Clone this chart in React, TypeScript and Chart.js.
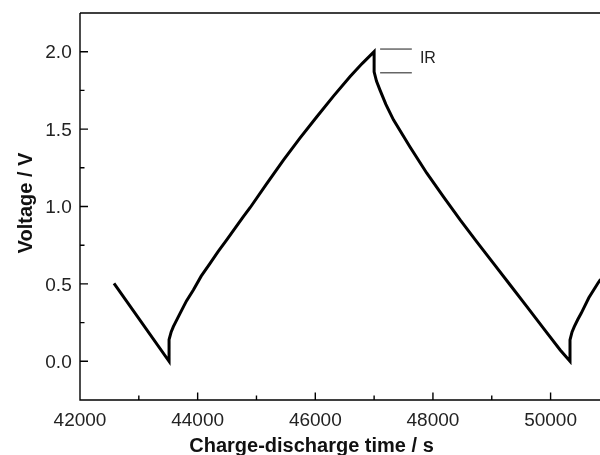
import React, { useEffect, useRef } from "react";
import { Chart, registerables } from "chart.js";

Chart.register(...registerables);

// Charge-discharge curve (time in s, voltage in V)
const timeS = [
  42578, 43514, 43514, 43550, 43587, 43701, 43810, 43927, 44060, 44211, 44350, 44494,
  44640, 44777, 44891, 45175, 45458, 45742, 46026, 46309, 46592, 46800, 47000,
  47000, 47040, 47102, 47200, 47329, 47608, 47896, 48180, 48463, 48746, 49029,
  49313, 49597, 49880, 50163, 50330, 50330, 50365, 50403, 50460, 50520, 50650, 50804, 50850,
];
const voltageV = [
  0.504, 0.0, 0.14, 0.19, 0.224, 0.31, 0.39, 0.46, 0.55, 0.633, 0.71, 0.784,
  0.862, 0.934, 0.992, 1.148, 1.3, 1.443, 1.58, 1.713, 1.84, 1.925, 2.0,
  1.87, 1.81, 1.75, 1.66, 1.56, 1.386, 1.215, 1.062, 0.913, 0.772, 0.633,
  0.493, 0.353, 0.213, 0.073, 0.0, 0.138, 0.19, 0.224, 0.268, 0.31, 0.41, 0.504, 0.53,
];

// IR marker lines
const irTimes = [47102, 47641];
const irUpperV = [2.017, 2.017];
const irLowerV = [1.864, 1.864];
const irLabel = "IR";
const irLabelTime = 47778;
const irLabelVoltage = 1.929;

// Axes
const xMin = 42000;
const xMax = 50840;
const xTicks = [42000, 43000, 44000, 45000, 46000, 47000, 48000, 49000, 50000];
const xTickLabels = ["42000", "", "44000", "", "46000", "", "48000", "", "50000"];
const yMin = -0.25;
const yMax = 2.25;
const yTicks = [0, 0.25, 0.5, 0.75, 1.0, 1.25, 1.5, 1.75, 2.0];
const yTickLabels = ["0.0", "", "0.5", "", "1.0", "", "1.5", "", "2.0"];
const xTitle = "Charge-discharge time / s";
const yTitle = "Voltage / V";

const FONT = '"Liberation Sans", Arial, Helvetica, sans-serif';

const toPoints = (xs: number[], ys: number[]) => xs.map((x, i) => ({ x, y: ys[i] }));

const framePlugin = {
  id: "frame",
  afterDatasetsDraw(chart: any) {
    const { ctx, chartArea: a, scales } = chart;
    const xs = scales.x;
    const ys = scales.y;
    ctx.save();

    // frame + inward ticks
    ctx.strokeStyle = "#000";
    ctx.lineWidth = 1.4;
    ctx.beginPath();
    ctx.moveTo(a.left, a.top);
    ctx.lineTo(a.right, a.top);
    ctx.moveTo(a.left, a.top);
    ctx.lineTo(a.left, a.bottom);
    ctx.lineTo(a.right, a.bottom);
    ys.ticks.forEach((t: any, i: number) => {
      const py = ys.getPixelForValue(t.value);
      const major = yTickLabels[i] !== "";
      ctx.moveTo(a.left, py);
      ctx.lineTo(a.left + (major ? 8 : 4.5), py);
    });
    xs.ticks.forEach((t: any, i: number) => {
      if (t.value <= xMin) return;
      const px = xs.getPixelForValue(t.value);
      const major = xTickLabels[i] !== "";
      ctx.moveTo(px, a.bottom);
      ctx.lineTo(px, a.bottom - (major ? 7.5 : 4.5));
    });
    ctx.stroke();

    // tick labels
    ctx.fillStyle = "#222";
    ctx.font = `19px ${FONT}`;
    ctx.textBaseline = "alphabetic";
    ctx.textAlign = "right";
    ys.ticks.forEach((t: any, i: number) => {
      if (!yTickLabels[i]) return;
      ctx.fillText(yTickLabels[i], a.left - 8.3, ys.getPixelForValue(t.value) + 6.6);
    });
    ctx.textAlign = "center";
    xs.ticks.forEach((t: any, i: number) => {
      if (!xTickLabels[i]) return;
      ctx.fillText(xTickLabels[i], xs.getPixelForValue(t.value), a.bottom + 25.7);
    });

    // IR label
    ctx.fillStyle = "#222";
    ctx.font = `16px ${FONT}`;
    ctx.textAlign = "left";
    ctx.fillText(irLabel, xs.getPixelForValue(irLabelTime), ys.getPixelForValue(irLabelVoltage));

    // axis titles
    ctx.fillStyle = "#111";
    ctx.font = `bold 20px ${FONT}`;
    ctx.textAlign = "center";
    ctx.fillText(xTitle, 311.5, 452.3);

    ctx.save();
    ctx.translate(31.7, 203);
    ctx.rotate(-Math.PI / 2);
    ctx.fillText(yTitle, 0, 0);
    ctx.restore();

    ctx.restore();
  },
};

export default function App() {
  const canvasRef = useRef<HTMLCanvasElement | null>(null);

  useEffect(() => {
    const canvas = canvasRef.current;
    if (!canvas) return;
    const chart = new Chart(canvas, {
      type: "line",
      data: {
        datasets: [
          {
            data: toPoints(timeS, voltageV),
            borderColor: "#000",
            borderWidth: 3,
            pointRadius: 0,
            tension: 0,
            fill: false,
          },
          {
            data: toPoints(irTimes, irUpperV),
            borderColor: "#666",
            borderWidth: 1.5,
            pointRadius: 0,
            fill: false,
          },
          {
            data: toPoints(irTimes, irLowerV),
            borderColor: "#666",
            borderWidth: 1.5,
            pointRadius: 0,
            fill: false,
          },
        ],
      },
      options: {
        animation: false,
        responsive: false,
        maintainAspectRatio: false,
        layout: { padding: { top: 13, right: 0, bottom: 0, left: 0 } },
        plugins: {
          legend: { display: false },
          tooltip: { enabled: false },
          title: { display: false },
        },
        scales: {
          x: {
            type: "linear",
            min: xMin,
            max: xMax,
            grid: { display: false, drawTicks: false },
            border: { display: false },
            afterBuildTicks: (scale: any) => {
              scale.ticks = xTicks.map((value) => ({ value }));
            },
            afterFit: (scale: any) => {
              scale.height = 55;
              scale.paddingLeft = 0;
              scale.paddingRight = 0;
            },
            ticks: { display: false, autoSkip: false, maxRotation: 0, minRotation: 0 },
            title: { display: false },
          },
          y: {
            type: "linear",
            min: yMin,
            max: yMax,
            grid: { display: false, drawTicks: false },
            border: { display: false },
            afterBuildTicks: (scale: any) => {
              scale.ticks = yTicks.map((value) => ({ value }));
            },
            afterFit: (scale: any) => {
              scale.width = 80;
              scale.paddingTop = 0;
              scale.paddingBottom = 0;
            },
            ticks: { display: false, autoSkip: false },
            title: { display: false },
          },
        },
      },
      plugins: [framePlugin],
    });
    return () => chart.destroy();
  }, []);

  return (
    <div style={{ position: "absolute", left: 0, top: 0, width: 600, height: 455, background: "#fff" }}>
      <canvas ref={canvasRef} width={600} height={455} style={{ display: "block" }} />
    </div>
  );
}
